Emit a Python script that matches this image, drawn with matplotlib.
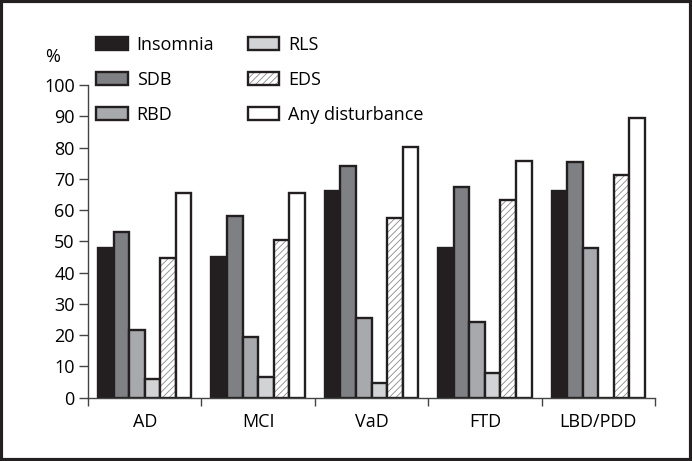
import matplotlib
matplotlib.use("Agg")
import matplotlib.pyplot as plt
import numpy as np
from matplotlib.patches import Patch, Rectangle
from matplotlib.legend_handler import HandlerTuple

plt.rcParams["font.family"] = ["Open Sans", "DejaVu Sans"]
plt.rcParams["hatch.linewidth"] = 0.6

# data
groups = ["AD", "MCI", "VaD", "FTD", "LBD/PDD"]
series = ["Insomnia", "SDB", "RBD", "RLS", "EDS", "Any disturbance"]
insomnia = [48, 45, 66, 48, 66]
sdb = [53, 58, 74, 67.5, 75.5]
rbd = [21.5, 19.3, 25.5, 24.3, 48]
rls = [5.8, 6.6, 4.5, 7.8, 0]
eds = [44.8, 50.5, 57.3, 63.2, 71.3]
any_dist = [65.5, 65.5, 80.3, 75.8, 89.5]
values = [insomnia, sdb, rbd, rls, eds, any_dist]

edge = "#231f20"
fills = ["#231f20", "#7f8083", "#a7a9ac", "#d1d3d4", "white", "white"]

fig = plt.figure(figsize=(6.92, 4.61), dpi=100)
ax = fig.add_axes([88 / 692, 1 - 397.5 / 461, (655 - 88) / 692, (397.5 - 85) / 461])

x = np.arange(len(groups))
width = 0.137
offsets = (np.arange(len(series)) - 2.5) * width
handles = []
for i, (name, vals) in enumerate(zip(series, values)):
    pos = x + offsets[i]
    if name == "EDS":
        # grey hatching under a dark outline
        ax.bar(pos, vals, width, color="white", edgecolor="#8a8a8a", hatch="/////",
               linewidth=0)
        ax.bar(pos, vals, width, fill=False, edgecolor=edge, linewidth=1.7)
        handles.append((Patch(facecolor="white", edgecolor="#8a8a8a", hatch="/////", linewidth=0),
                        Patch(fill=False, edgecolor=edge, linewidth=1.7)))
    else:
        ax.bar(pos, vals, width, color=fills[i], edgecolor=edge, linewidth=1.7)
        handles.append(Patch(facecolor=fills[i], edgecolor=edge, linewidth=1.7))

ax.set_xlim(-0.5, len(groups) - 0.5)
ax.set_ylim(0, 100)
ax.set_yticks(np.arange(0, 101, 10))
ax.set_xticks(x)
ax.set_xticklabels(groups, fontsize=13)
ax.set_xticks(np.arange(-0.5, len(groups)), minor=True)
ax.tick_params(axis="x", which="major", length=0, pad=11)
ax.tick_params(axis="x", which="minor", length=6, width=1, color="#444444")
ax.tick_params(axis="y", length=6.5, width=1, pad=3, labelsize=13, color="#444444")
for side in ["top", "right"]:
    ax.spines[side].set_visible(False)
for side in ["left", "bottom"]:
    ax.spines[side].set_color("#444444")
    ax.spines[side].set_linewidth(1)
ax.spines["left"].set_bounds(0, 100)

fig.text(53 / 692, 1 - 57 / 461, "%", ha="center", va="center", fontsize=13)

fig.legend(handles, series, ncol=2, loc="upper left",
           bbox_to_anchor=(96 / 692, 1 - 36 / 461), bbox_transform=fig.transFigure,
           frameon=False, fontsize=13, handlelength=1.75, handleheight=0.75,
           handletextpad=0.5, labelspacing=0.93, columnspacing=1.85,
           borderpad=0, borderaxespad=0,
           handler_map={tuple: HandlerTuple(ndivide=1, pad=0)})

fig.patches.append(Rectangle((0.002, 0.003), 0.996, 0.994, transform=fig.transFigure,
                             fill=False, edgecolor="#231f20", linewidth=3))

fig.savefig("out.png", dpi=100)
